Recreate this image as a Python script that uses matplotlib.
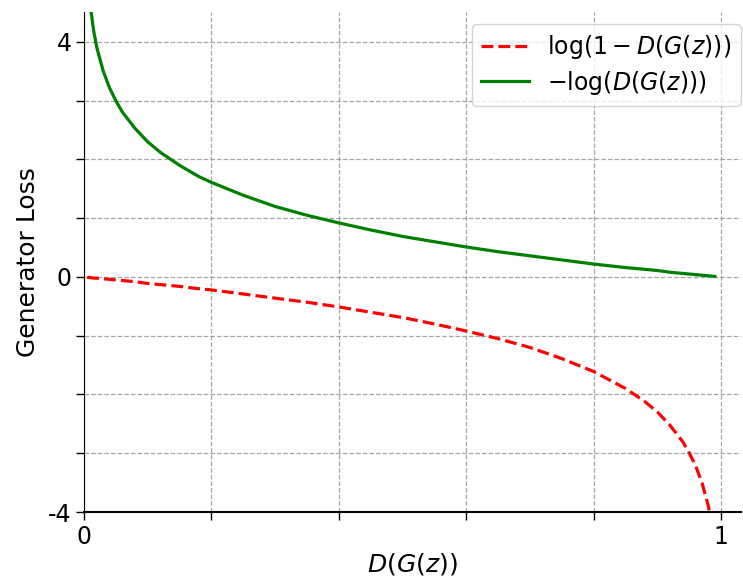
import matplotlib
matplotlib.use("Agg")
import matplotlib.pyplot as plt

# D(G(z)) sample positions and curve values
d_vals = [0.005, 0.01, 0.015, 0.02, 0.03, 0.04, 0.05, 0.06, 0.08, 0.10, 0.12,
          0.15, 0.18, 0.20, 0.25, 0.30, 0.35, 0.40, 0.45, 0.50, 0.55, 0.60,
          0.65, 0.70, 0.75, 0.80, 0.85, 0.88, 0.90, 0.92, 0.94, 0.95, 0.96,
          0.97, 0.98, 0.99]
loss_saturating = [-0.005, -0.01, -0.02, -0.02, -0.03, -0.04, -0.05, -0.06, -0.08,
                   -0.11, -0.13, -0.16, -0.20, -0.22, -0.29, -0.36, -0.43, -0.51,
                   -0.60, -0.69, -0.80, -0.92, -1.05, -1.20, -1.39, -1.61, -1.90,
                   -2.12, -2.30, -2.53, -2.81, -3.00, -3.22, -3.51, -3.91, -4.61]
loss_nonsaturating = [5.30, 4.61, 4.20, 3.91, 3.51, 3.22, 3.00, 2.81, 2.53, 2.30,
                      2.12, 1.90, 1.71, 1.61, 1.39, 1.20, 1.05, 0.92, 0.80, 0.69,
                      0.60, 0.51, 0.43, 0.36, 0.29, 0.22, 0.16, 0.13, 0.11, 0.08,
                      0.06, 0.05, 0.04, 0.03, 0.02, 0.01]

x_ticks = [0, 0.2, 0.4, 0.6, 0.8, 1.0]
x_ticklabels = ['0', '', '', '', '', '1']
y_ticks = [-4, -3, -2, -1, 0, 1, 2, 3, 4]
y_ticklabels = ['-4', '', '', '', '0', '', '', '', '4']

fig = plt.figure(figsize=(7.43, 5.8), dpi=100)
ax = fig.add_axes([84/743, 1 - 512/580, (741-84)/743, (512-12)/580])

ax.plot(d_vals, loss_saturating, color='red', linestyle='--', linewidth=2.3,
        label=r'$\log(1-D(G(z)))$')
ax.plot(d_vals, loss_nonsaturating, color='green', linestyle='-', linewidth=2.3,
        label=r'$-\log(D(G(z)))$')

ax.set_xlim(0, 1.031)
ax.set_ylim(-4, 4.51)
ax.set_xticks(x_ticks)
ax.set_xticklabels(x_ticklabels, fontsize=17)
ax.set_yticks(y_ticks)
ax.set_yticklabels(y_ticklabels, fontsize=17)
ax.tick_params(length=6, width=1, pad=3)
ax.grid(True, linestyle='--', color='gray', alpha=0.7, linewidth=0.9)

ax.spines['top'].set_visible(False)
ax.spines['right'].set_visible(False)
ax.spines['bottom'].set_linewidth(1.5)

ax.set_xlabel(r'$D(G(z))$', fontsize=18, labelpad=2)
ax.set_ylabel('Generator Loss', fontsize=18, labelpad=6)
ax.legend(loc='upper right', fontsize=17, bbox_to_anchor=(1.0, 0.976),
          borderaxespad=0, labelspacing=0.3, handletextpad=0.8)

fig.savefig('out.png', dpi=100)
